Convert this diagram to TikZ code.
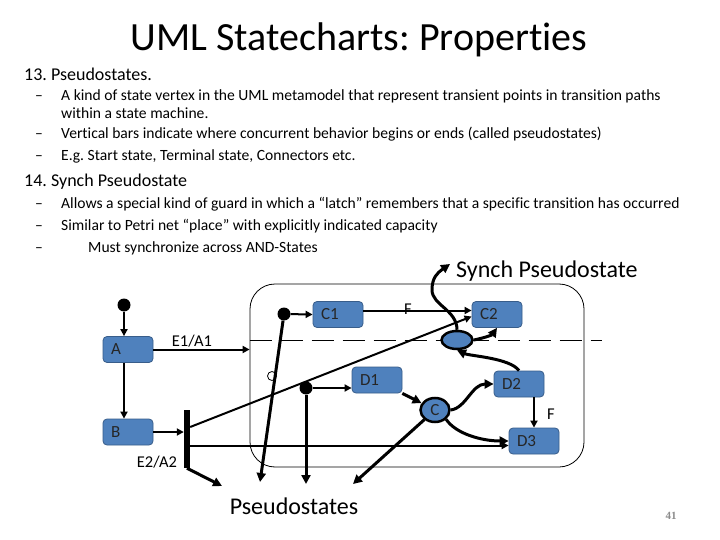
\documentclass[tikz,border=0pt]{standalone}
\usepackage{fontspec}
\setmainfont{Carlito}[Ligatures=NoCommon]
\newfontfamily\numfont{Liberation Serif}
\usetikzlibrary{arrows.meta,shapes.geometric}
\definecolor{boxblue}{HTML}{4F81BD}
\definecolor{boxedge}{HTML}{385D8A}
\definecolor{pagegray}{HTML}{8C8C8C}
\frenchspacing
\tikzset{
  txt/.style={anchor=base west, inner sep=0pt},
  headfont/.style={font=\fontsize{18}{20}\selectfont},
  bulfont/.style={font=\fontsize{15.6}{17}\selectfont},
  lbl/.style={inner sep=0pt, font=\fontsize{16.5}{18}\selectfont},
  biglbl/.style={inner sep=0pt, font=\fontsize{24}{26}\selectfont},
  statebox/.style={draw=boxedge, fill=boxblue, rounded corners=4pt, line width=0.8pt,
    text width=34pt, inner xsep=8pt, inner ysep=0pt, minimum height=26pt, align=left,
    text=black!85, font=\fontsize{17}{18}\selectfont},
  initdot/.style={circle, fill=black, minimum size=13pt, inner sep=0pt},
  pseudo/.style={ellipse, draw=black, line width=2.5pt, fill=boxblue, inner sep=0pt,
    text=black!85, font=\fontsize{17}{18}\selectfont},
  tconn/.style={line width=2pt, -{Triangle[length=7pt,width=7pt]}},
  hconn/.style={line width=3pt, -{Triangle[length=9pt,width=9pt]}},
}
\begin{document}
\begin{tikzpicture}[x=1pt,y=-1pt]
\useasboundingbox[fill=white] (0,0) rectangle (720,540);

% ---- text ----
\node[anchor=base, inner sep=0pt, font=\fontsize{40}{46}\selectfont] (title) at (359,51) {UML Statecharts: Properties};
\node[txt, headfont] (h13) at (24,81) {13. Pseudostates.};
\node[txt, bulfont] (d1) at (35,101) {–};
\node[txt, bulfont] (t1) at (61,101) {A kind of state vertex in the UML metamodel that represent transient points in transition paths};
\node[txt, bulfont] (t1b) at (61,119) {within a state machine.};
\node[txt, bulfont] (d2) at (35,139) {–};
\node[txt, bulfont] (t2) at (61,139) {Vertical bars indicate where concurrent behavior begins or ends (called pseudostates)};
\node[txt, bulfont] (d3) at (35,161) {–};
\node[txt, bulfont] (t3) at (61,161) {E.g. Start state, Terminal state, Connectors etc.};
\node[txt, headfont] (h14) at (24,187) {14. Synch Pseudostate};
\node[txt, bulfont] (d4) at (35,209) {–};
\node[txt, bulfont] (t4) at (61,209) {Allows a special kind of guard in which a “latch” remembers that a specific transition has occurred};
\node[txt, bulfont] (d5) at (35,230) {–};
\node[txt, bulfont] (t5) at (61,230) {Similar to Petri net “place” with explicitly indicated capacity};
\node[txt, bulfont] (d6) at (35,252) {–};
\node[txt, bulfont] (t6) at (88,252) {Must synchronize across AND-States};

\node[txt, biglbl] (synchlbl) at (456,277) {Synch Pseudostate};
\node[anchor=base, biglbl] (pslbl) at (294,514) {Pseudostates};
\node[anchor=base, inner sep=0pt, font=\numfont\bfseries\fontsize{11}{12}\selectfont, text=pagegray] (pg) at (671,519) {41};

% ---- superstate ----
\node[draw, line width=0.8pt, rounded corners=25pt, minimum width=334pt, minimum height=183pt, inner sep=0pt] (S) at (417,375.5) {};
\coordinate (dashend) at (602,340);
\draw[line width=0.8pt, dash pattern=on 22pt off 9pt] (S.west |- dashend) -- (dashend);

% ---- nodes ----
\node[initdot] (i1) at (124,305) {};
\node[statebox] (A) at (128,349.5) {A};
\node[statebox] (B) at (128,432) {B};
\node[fill=black, minimum width=6pt, minimum height=58pt, inner sep=0pt] (bar) at (187,439) {};
\node[initdot] (i2) at (284,314) {};
\node[statebox] (C1) at (338,314.5) {C1};
\node[statebox] (C2) at (497,314.5) {C2};
\node[circle, draw, line width=0.8pt, fill=white, minimum size=9pt, inner sep=0pt] (h) at (272,376) {};
\node[initdot] (i3) at (306,388) {};
\node[statebox] (D1) at (377,380) {D1};
\node[pseudo, minimum width=29pt, minimum height=24pt] (C) at (435,410) {C};
\node[statebox] (D2) at (519,384) {D2};
\node[statebox] (D3) at (534,441) {D3};
\node[pseudo, minimum width=31pt, minimum height=18pt] (sy) at (457,340) {};

% ---- labels ----
\node[lbl] (e1) at (192,341) {E1/A1};
\node[lbl] (e2) at (157,462) {E2/A2};
\node[lbl] (f1) at (408,309) {F};
\node[lbl] (f2) at (551,414) {F};

% ---- free ends ----
\coordinate (p1) at (222,486);
\coordinate (p2) at (260,482);
\coordinate (p3) at (306,484);
\coordinate (p4) at (353,484);
\coordinate (sq) at (450,264);

% ---- connectors ----
\draw[tconn] (i1) -- (i1 |- A.north);
\draw[tconn] (i1 |- A.south) -- (i1 |- B.north);
\draw[tconn] (A.east) -- (A.east -| S.west);
\draw[tconn] (B.east) -- (B.east -| bar.west);
\draw[tconn] ([yshift=12pt]bar.east) -- ([yshift=-2pt]C2.west);
\draw[tconn] ([yshift=-6.5pt]bar.east) -- ([yshift=-6.5pt]bar.east -| D3.west);
\draw[hconn] (bar.south) -- (p1);
\draw[tconn] (i2) -- (C1.west);
\draw[hconn] (i2) -- (p2);
\draw[tconn] ([yshift=4pt]C1.east) -- ([yshift=4pt]C2.west);
\draw[tconn] (i3) -- (i3 -| D1.west);
\draw[hconn] (i3) -- (p3);
\draw[hconn] (D1.south east) -- (C);
\draw[hconn] (C) -- (p4);
\draw[hconn] (C.east) .. controls (466,408) and (472,384) .. (D2.west);
\draw[hconn] (C.south east) .. controls (456,434) and (482,441) .. (D3.west);
\draw[tconn] (D2.south -| D3.north) -- (D3.north);
\draw[hconn] (D2.north) .. controls (510,358) and (470,356) .. (sy.south);
\draw[hconn] (sy.east) .. controls (484,338) and (492,335) .. (C2.south);
\draw[hconn] (sy.north) .. controls (457,310) and (432,305) .. (432,290) .. controls (432,278) and (437,273) .. (sq);
\end{tikzpicture}
\end{document}
